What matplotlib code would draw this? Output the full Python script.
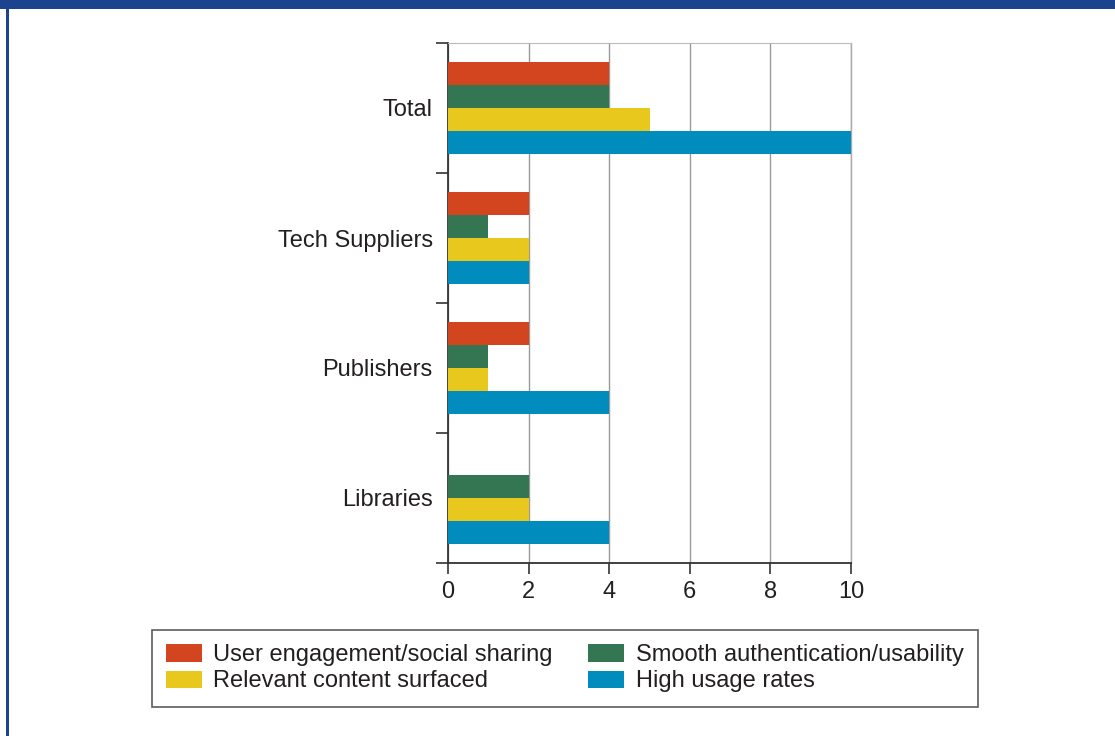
import numpy as np
import matplotlib.pyplot as plt
from matplotlib.patches import Rectangle, Patch

plt.rcParams['font.family'] = ['Liberation Sans', 'DejaVu Sans']

# 数据
groups = ['Total', 'Tech Suppliers', 'Publishers', 'Libraries']
series = ['User engagement/social sharing', 'Smooth authentication/usability',
          'Relevant content surfaced', 'High usage rates']
user_engagement = [4, 2, 2, 0]
smooth_auth = [4, 1, 1, 2]
relevant_content = [5, 2, 1, 2]
high_usage = [10, 2, 4, 4]
colors = ['#D2451E', '#357652', '#E8C81C', '#008DBD']

values = [user_engagement, smooth_auth, relevant_content, high_usage]
txt = '#231F20'

fig = plt.figure(figsize=(11.15, 7.36), dpi=100)
ax = fig.add_axes([448 / 1115, 1 - 563 / 736, 403 / 1115, 520 / 736])

n = len(groups)
centers = np.arange(n)[::-1] + 0.5
h = 0.177
for k in range(4):
    ypos = centers + (1.5 - k) * h
    ax.barh(ypos, values[k], height=h, color=colors[k], edgecolor='none', zorder=3)

ax.set_xlim(0, 10)
ax.set_ylim(0, n)
ax.set_xticks([0, 2, 4, 6, 8, 10])
ax.set_yticks(centers)
ax.set_yticklabels(groups)
ax.set_yticks(np.arange(n + 1), minor=True)
ax.tick_params(axis='y', which='major', length=0, pad=11, labelsize=17, labelcolor=txt)
ax.tick_params(axis='y', which='minor', length=9, width=1.2, color='#333333')
ax.tick_params(axis='x', length=8, width=1.2, color='#333333', labelsize=17, labelcolor=txt, pad=5)

ax.grid(axis='x', color='#999999', linewidth=1, zorder=0)
ax.axvline(10, color='#aaaaaa', linewidth=1, zorder=0, clip_on=False)
ax.spines['right'].set_visible(False)
ax.spines['top'].set_color('#bbbbbb')
ax.spines['left'].set_color('#333333')
ax.spines['left'].set_linewidth(1.3)
ax.spines['bottom'].set_color('#333333')
ax.spines['bottom'].set_linewidth(1.3)

# 图例按行排列
order = [0, 2, 1, 3]
handles = [Patch(facecolor=colors[i], edgecolor='none') for i in order]
labels = [series[i] for i in order]
leg = fig.legend(handles, labels, ncol=2, loc='upper left',
                 bbox_to_anchor=(152 / 1115, 1 - 630 / 736), fontsize=17,
                 frameon=True, fancybox=False, edgecolor='#333333',
                 handlelength=1.5, handleheight=0.75, handletextpad=0.5,
                 columnspacing=1.5, labelspacing=0.18, borderpad=0.6,
                 borderaxespad=0)
leg.get_frame().set_linewidth(1.2)
for t in leg.get_texts():
    t.set_color(txt)

# 边框
fig.patches.append(Rectangle((0, 1 - 9 / 736), 1, 9 / 736, transform=fig.transFigure,
                             facecolor='#1C448E', edgecolor='none'))
fig.patches.append(Rectangle((6 / 1115, 0), 3 / 1115, 1, transform=fig.transFigure,
                             facecolor='#1C448E', edgecolor='none'))

fig.savefig('out.png', dpi=100)
